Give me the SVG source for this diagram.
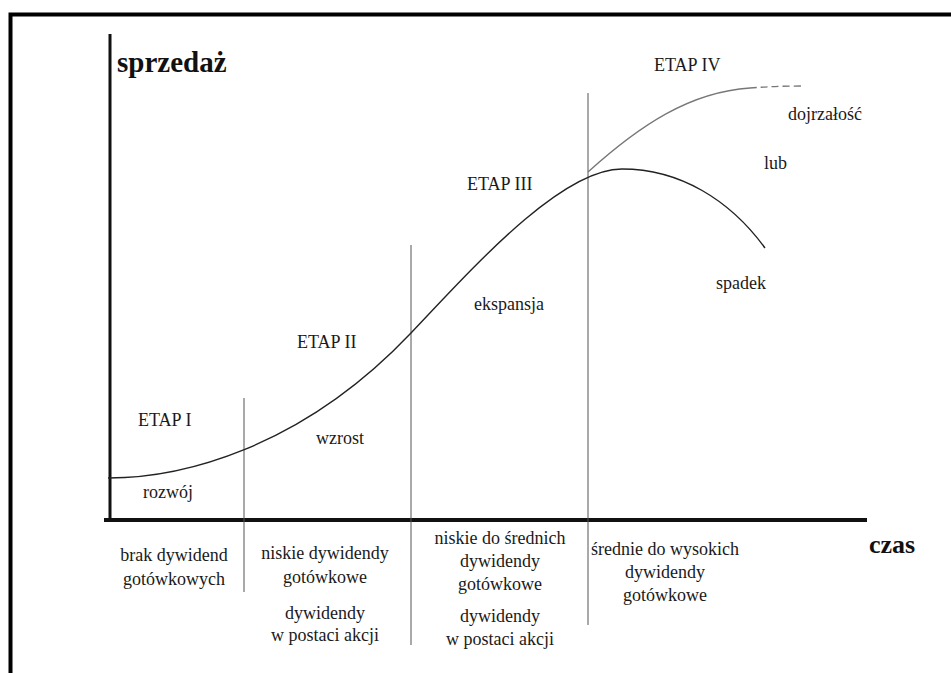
<svg xmlns="http://www.w3.org/2000/svg" width="951" height="673" viewBox="0 0 951 673">
  <defs>
    <style>
      .lbl { font-family: "Liberation Serif", "Times New Roman", serif; font-size: 18px; fill: #1a1a1a; }
      .ctr { text-anchor: middle; }
      .axis-title { font-family: "Liberation Serif", "Times New Roman", serif; font-weight: bold; fill: #111; }
      .axis { stroke: #111; fill: none; }
      .divider { stroke: #555; stroke-width: 1; fill: none; }
      .curve { stroke: #222; stroke-width: 1.4; fill: none; }
      .alt { stroke: #777; stroke-width: 1.3; fill: none; }
    </style>
  </defs>

  <rect x="0" y="0" width="951" height="673" fill="#ffffff"/>
  <!-- outer frame (open to the right and bottom) -->
  <rect x="10.5" y="14.5" width="1000" height="1000" fill="none" stroke="#000" stroke-width="4"/>

  <!-- axes -->
  <g id="axes">
    <line class="axis" x1="110" y1="34" x2="110" y2="521" stroke-width="3"/>
    <line class="axis" x1="104" y1="520" x2="867" y2="520" stroke-width="4"/>
    <text class="axis-title" x="117" y="72" font-size="29">sprzedaż</text>
    <text class="axis-title" x="869" y="553" font-size="26">czas</text>
  </g>

  <!-- stage dividers -->
  <g id="dividers">
    <line class="divider" x1="244" y1="398" x2="244" y2="592"/>
    <line class="divider" x1="411" y1="245" x2="411" y2="645"/>
    <line class="divider" x1="588" y1="93" x2="588" y2="625"/>
  </g>

  <!-- life-cycle curves -->
  <g id="connectors">
    <path class="curve" d="M108,478 C180,478 300,450 411,333 C470,271 560,169 622,169 C680,169 730,200 765,248"/>
    <path class="alt" d="M588,172 C640,125 690,92 750,88"/>
    <path class="alt" d="M750,88 Q775,86 802,86" stroke-dasharray="7 4"/>
  </g>

  <!-- stage I -->
  <g id="stage1">
    <text class="lbl" x="138" y="426">ETAP I</text>
    <text class="lbl" x="143" y="498">rozwój</text>
    <text class="lbl ctr" x="174" y="561">brak dywidend</text>
    <text class="lbl ctr" x="174" y="585">gotówkowych</text>
  </g>

  <!-- stage II -->
  <g id="stage2">
    <text class="lbl" x="297" y="348">ETAP II</text>
    <text class="lbl" x="316" y="444">wzrost</text>
    <text class="lbl ctr" x="325" y="559">niskie dywidendy</text>
    <text class="lbl ctr" x="325" y="583">gotówkowe</text>
    <text class="lbl ctr" x="325" y="619">dywidendy</text>
    <text class="lbl ctr" x="325" y="641">w postaci akcji</text>
  </g>

  <!-- stage III -->
  <g id="stage3">
    <text class="lbl" x="467" y="190">ETAP III</text>
    <text class="lbl" x="474" y="310">ekspansja</text>
    <text class="lbl ctr" x="500" y="544">niskie do średnich</text>
    <text class="lbl ctr" x="500" y="567">dywidendy</text>
    <text class="lbl ctr" x="500" y="590">gotówkowe</text>
    <text class="lbl ctr" x="500" y="622">dywidendy</text>
    <text class="lbl ctr" x="500" y="645">w postaci akcji</text>
  </g>

  <!-- stage IV -->
  <g id="stage4">
    <text class="lbl" x="654" y="71">ETAP IV</text>
    <text class="lbl" x="788" y="120">dojrzałość</text>
    <text class="lbl" x="764" y="169">lub</text>
    <text class="lbl" x="716" y="289">spadek</text>
    <text class="lbl ctr" x="665" y="555">średnie do wysokich</text>
    <text class="lbl ctr" x="665" y="578">dywidendy</text>
    <text class="lbl ctr" x="665" y="601">gotówkowe</text>
  </g>
</svg>
